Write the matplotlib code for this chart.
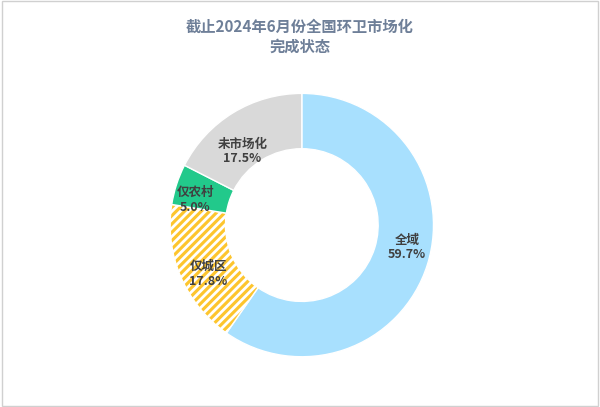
import matplotlib

matplotlib.use("Agg")
import matplotlib.pyplot as plt
from matplotlib.patches import Rectangle

plt.rcParams["font.family"] = ["Noto Sans CJK SC", "DejaVu Sans"]
plt.rcParams["hatch.color"] = "white"
plt.rcParams["hatch.linewidth"] = 2.0

labels = ["全域", "仅城区", "仅农村", "未市场化"]
values = [59.7, 17.8, 5.0, 17.5]
colors = ["#a8e0fe", "#fdc52e", "#22c98b", "#d9d9d9"]
hatches = [None, "////", None, None]

fig = plt.figure(figsize=(6.0, 4.07), dpi=100)
fig.patches.append(Rectangle((0.003, 0.003), 0.994, 0.994, transform=fig.transFigure,
                             fill=False, edgecolor="#d0d0d0", linewidth=1))
fig.text(0.5, 0.91, "截止2024年6月份全国环卫市场化\n完成状态", ha="center", va="center",
         fontsize=11, fontweight="bold", color="#6e7f98", linespacing=1.3)

r = 0.33
ax = fig.add_axes([0.503 - r * 4.07 / 6.0, 0.447 - r, 2 * r * 4.07 / 6.0, 2 * r])
wedges, _ = ax.pie(values, colors=colors, startangle=90, counterclock=False,
                   radius=1.0, wedgeprops=dict(width=0.42, edgecolor="white", linewidth=1))
for w, h in zip(wedges, hatches):
    if h:
        w.set_hatch(h)

label_pos = [(0.80, -0.17), (-0.71, -0.37), (-0.81, 0.19), (-0.45, 0.56)]
for (x, y), lab, v in zip(label_pos, labels, values):
    ax.text(x, y, f"{lab}\n{v:.1f}%", ha="center", va="center", fontsize=9,
            fontweight="bold", color="#404040", linespacing=1.15)
ax.set_xlim(-1.02, 1.02)
ax.set_ylim(-1.02, 1.02)
ax.set_aspect("equal")

fig.savefig("out.png", dpi=100)
